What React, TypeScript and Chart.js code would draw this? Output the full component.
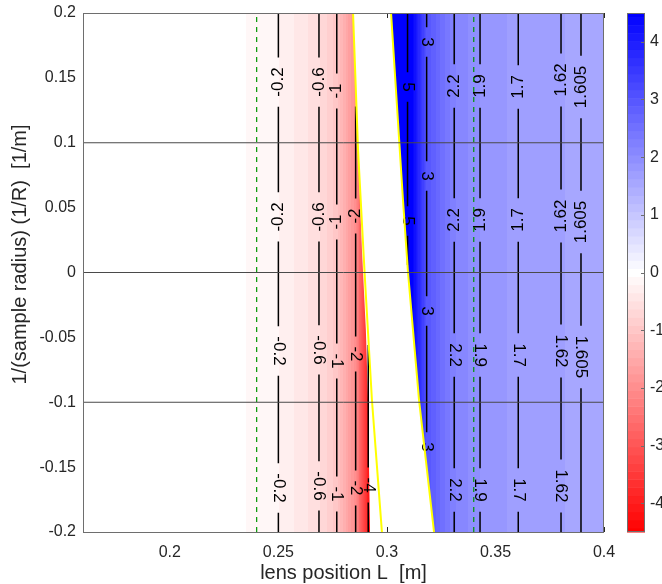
import React, { useEffect, useRef } from 'react';
import { Chart, registerables } from 'chart.js';

Chart.register(...registerables);

// ---- axes ----
const xRange = [0.16, 0.4];
const yRange = [-0.2, 0.2];
const xTicks = [0.2, 0.25, 0.3, 0.35, 0.4];
const xTickLabels = ['0.2', '0.25', '0.3', '0.35', '0.4'];
const yTicks = [-0.2, -0.15, -0.1, -0.05, 0, 0.05, 0.1, 0.15, 0.2];
const yTickLabels = ['-0.2', '-0.15', '-0.1', '-0.05', '0', '0.05', '0.1', '0.15', '0.2'];
const cbRange = [-4.5, 4.5];
const cbTicks = [-4, -3, -2, -1, 0, 1, 2, 3, 4];
const cbTickLabels = ['-4', '-3', '-2', '-1', '0', '1', '2', '3', '4'];
const colorSteps = 32;
const xTitle = 'lens position L  [m]';
const yTitle = '1/(sample radius) (1/R)  [1/m]';

// ---- shaded field (value vs lens position) ----
const leftShadeL = [0.16, 0.2352, 0.25, 0.2687, 0.2769, 0.2856, 0.2914, 0.2922];
const leftShadeV = [0, -0.07, -0.2, -0.6, -1, -2, -4, -4.5];
const rightShadeL = [0.3019, 0.3095, 0.3183, 0.331, 0.3429, 0.3605, 0.3802, 0.3894, 0.4];
const rightShadeV = [5.5, 5, 3, 2.2, 1.9, 1.7, 1.62, 1.605, 1.595];

// edge of the red field (undefined region to its right)
const redEdgeY = [0.2, 0.0944, 0.0173, -0.0443, -0.0983, -0.2];
const redEdgeL = [0.2844, 0.2867, 0.2885, 0.2903, 0.2913, 0.2922];

// yellow boundary lines
const leftYellowY = [0.2, 0.0944, -0.0058, -0.0983, -0.2];
const leftYellowL = [0.2844, 0.2867, 0.2899, 0.2931, 0.2977];
const rightYellowY = [0.2, 0.0559, 0.0004, -0.0983, -0.2];
const rightYellowL = [0.3019, 0.3074, 0.3097, 0.3148, 0.3217];

// dashed green markers & horizontal reference lines
const greenDashL = [0.24, 0.34];
const hLineY = [0.1, 0, -0.1];

// ---- contours ----
const contourText = ['-0.2', '-0.6', '-1', '-2', '-4', '5', '3', '2.2', '1.9', '1.7', '1.62', '1.605'];
const contourL = [0.25, 0.2687, 0.2769, 0.2856, 0.2914, 0.3095, 0.3183, 0.331, 0.3429, 0.3605, 0.3802, 0.3894];
const contourTop = [0.2, 0.2, 0.2, 0.128, -0.0559, 0.2, 0.2, 0.2, 0.2, 0.2, 0.2, 0.2];
const contourBottom = [-0.2, -0.2, -0.2, -0.2, -0.2, 0.0058, -0.143, -0.2, -0.2, -0.2, -0.2, -0.2];
const contourLabelY = [
  [0.1468, 0.0428, -0.0605, -0.1661],
  [0.1468, 0.0428, -0.0597, -0.1645],
  [0.1399, 0.0389, -0.0682, -0.1707],
  [0.0435, -0.0628, -0.1661],
  [-0.1638],
  [0.143, 0.0397],
  [0.1776, 0.0744, -0.0297, -0.1345],
  [0.1437, 0.0405, -0.0636, -0.1676],
  [0.1437, 0.0405, -0.0636, -0.1676],
  [0.143, 0.0405, -0.0636, -0.1676],
  [0.1484, 0.0435, -0.0605, -0.1645],
  [0.143, 0.0389, -0.0651],
];
// 1 = text reads upward, -1 = text reads downward
const contourLabelDir = [
  [1, 1, -1, -1],
  [1, 1, -1, -1],
  [1, 1, -1, -1],
  [1, -1, -1],
  [-1],
  [-1, -1],
  [-1, -1, -1, -1],
  [1, 1, -1, -1],
  [1, 1, -1, -1],
  [1, 1, -1, -1],
  [1, 1, -1, -1],
  [1, 1, -1],
];

const FONT = "'Liberation Sans', Arial, Helvetica, sans-serif";
const TEXT = '#262626';

function bandIndex(v: number) {
  const k = Math.round(v / (cbRange[1] / colorSteps));
  return Math.max(-colorSteps, Math.min(colorSteps, k)) || 0;
}
function bandColor(k: number) {
  const t = Math.abs(k) / colorSteps;
  const c = Math.round(255 * (1 - t));
  return k < 0 ? `rgb(255,${c},${c})` : `rgb(${c},${c},255)`;
}

function shadeGradient(ctx: CanvasRenderingContext2D, xs: any, Ls: number[], Vs: number[]) {
  const p0 = xs.getPixelForValue(Ls[0]);
  const p1 = xs.getPixelForValue(Ls[Ls.length - 1]);
  const g = ctx.createLinearGradient(p0, 0, p1, 0);
  const step = cbRange[1] / colorSteps;
  const off = (L: number) => Math.min(1, Math.max(0, (xs.getPixelForValue(L) - p0) / (p1 - p0)));
  for (let i = 0; i < Ls.length - 1; i++) {
    const v0 = Vs[i], v1 = Vs[i + 1];
    const k0 = bandIndex(v0), k1 = bandIndex(v1);
    g.addColorStop(off(Ls[i]), bandColor(k0));
    if (k0 !== k1) {
      const dir = k1 > k0 ? 1 : -1;
      for (let k = k0; k !== k1; k += dir) {
        const b = (k + dir * 0.5) * step;
        const L = Ls[i] + ((b - v0) / (v1 - v0)) * (Ls[i + 1] - Ls[i]);
        g.addColorStop(off(L), bandColor(k));
        g.addColorStop(off(L), bandColor(k + dir));
      }
    }
  }
  g.addColorStop(1, bandColor(bandIndex(Vs[Vs.length - 1])));
  return g;
}

const fieldPlugin = {
  id: 'field',
  beforeDatasetsDraw(chart: any) {
    const { ctx, chartArea: a, scales } = chart;
    const xs = scales.x, ys = scales.y;
    ctx.save();
    // inward ticks (lie under the field like MATLAB's bottom layer)
    ctx.strokeStyle = TEXT;
    ctx.lineWidth = 1;
    ctx.beginPath();
    xTicks.forEach((v) => {
      const px = Math.round(xs.getPixelForValue(v)) + 0.5;
      ctx.moveTo(px, a.bottom); ctx.lineTo(px, a.bottom - 5);
      ctx.moveTo(px, a.top); ctx.lineTo(px, a.top + 5);
    });
    yTicks.forEach((v) => {
      const py = Math.round(ys.getPixelForValue(v)) + 0.5;
      ctx.moveTo(a.left, py); ctx.lineTo(a.left + 5, py);
      ctx.moveTo(a.right, py); ctx.lineTo(a.right - 5, py);
    });
    ctx.stroke();

    ctx.beginPath();
    ctx.rect(a.left, a.top, a.right - a.left, a.bottom - a.top);
    ctx.clip();

    // red (left) field
    ctx.beginPath();
    ctx.moveTo(xs.getPixelForValue(xRange[0]), ys.getPixelForValue(redEdgeY[0]));
    redEdgeL.forEach((L, i) => ctx.lineTo(xs.getPixelForValue(L), ys.getPixelForValue(redEdgeY[i])));
    ctx.lineTo(xs.getPixelForValue(xRange[0]), ys.getPixelForValue(redEdgeY[redEdgeY.length - 1]));
    ctx.closePath();
    ctx.fillStyle = shadeGradient(ctx, xs, leftShadeL, leftShadeV);
    ctx.fill();

    // blue (right) field
    ctx.beginPath();
    rightYellowL.forEach((L, i) => {
      const px = xs.getPixelForValue(L), py = ys.getPixelForValue(rightYellowY[i]);
      if (i === 0) ctx.moveTo(px, py); else ctx.lineTo(px, py);
    });
    ctx.lineTo(xs.getPixelForValue(xRange[1]), ys.getPixelForValue(yRange[0]));
    ctx.lineTo(xs.getPixelForValue(xRange[1]), ys.getPixelForValue(yRange[1]));
    ctx.closePath();
    ctx.fillStyle = shadeGradient(ctx, xs, rightShadeL, rightShadeV);
    ctx.fill();

    // contour lines with labels
    ctx.font = `17px ${FONT}`;
    ctx.strokeStyle = '#000';
    ctx.fillStyle = '#000';
    ctx.lineWidth = 1.5;
    contourL.forEach((L, i) => {
      const px = xs.getPixelForValue(L);
      const top = ys.getPixelForValue(contourTop[i]);
      const bot = ys.getPixelForValue(contourBottom[i]);
      const w = ctx.measureText(contourText[i]).width;
      const gaps = contourLabelY[i].map((v) => ys.getPixelForValue(v)).sort((p, q) => p - q);
      let cur = top;
      ctx.beginPath();
      gaps.forEach((g) => {
        const g0 = g - w / 2 - 10, g1 = g + w / 2 + 10;
        if (g0 > cur) { ctx.moveTo(px, cur); ctx.lineTo(px, g0); }
        cur = Math.max(cur, g1);
      });
      if (bot > cur) { ctx.moveTo(px, cur); ctx.lineTo(px, bot); }
      ctx.stroke();
      contourLabelY[i].forEach((v, j) => {
        ctx.save();
        ctx.translate(px, ys.getPixelForValue(v));
        ctx.rotate(contourLabelDir[i][j] > 0 ? -Math.PI / 2 : Math.PI / 2);
        ctx.textAlign = 'center';
        ctx.textBaseline = 'middle';
        ctx.fillText(contourText[i], 0, 0);
        ctx.restore();
      });
    });
    ctx.restore();
  },
  afterDraw(chart: any) {
    const { ctx, chartArea: a, scales } = chart;
    ctx.save();
    // axes box
    ctx.strokeStyle = '#6e6e6e';
    ctx.lineWidth = 1;
    ctx.strokeRect(a.left + 0.5, a.top + 0.5, a.right - a.left - 1, a.bottom - a.top);
    // y-axis title
    ctx.save();
    ctx.translate(20, (a.top + a.bottom) / 2 - 18);
    ctx.rotate(-Math.PI / 2);
    ctx.font = `20px ${FONT}`;
    ctx.fillStyle = TEXT;
    ctx.textAlign = 'center';
    ctx.textBaseline = 'middle';
    ctx.fillText(yTitle, 0, 0);
    ctx.restore();
    // colorbar
    const cb = scales.cb;
    const x0 = cb.left + 23, w = 18;
    const step = cbRange[1] / colorSteps;
    for (let k = -colorSteps; k <= colorSteps; k++) {
      const lo = Math.max(cbRange[0], (k - 0.5) * step);
      const hi = Math.min(cbRange[1], (k + 0.5) * step);
      const pTop = cb.getPixelForValue(hi), pBot = cb.getPixelForValue(lo);
      ctx.fillStyle = bandColor(k);
      ctx.fillRect(x0, pTop, w, pBot - pTop + 0.5);
    }
    const t = cb.getPixelForValue(cbRange[1]), b = cb.getPixelForValue(cbRange[0]);
    ctx.strokeStyle = '#6e6e6e';
    ctx.strokeRect(x0 + 0.5, t + 0.5, w - 1, b - t - 1);
    ctx.beginPath();
    cbTicks.forEach((v) => {
      const py = Math.round(cb.getPixelForValue(v)) + 0.5;
      ctx.moveTo(x0 + w - 4, py); ctx.lineTo(x0 + w, py);
    });
    ctx.stroke();
    ctx.restore();
  },
};

const lineDs = (pts: { x: number; y: number }[], color: string, width: number, dash: number[] = []) => ({
  data: pts,
  borderColor: color,
  borderWidth: width,
  borderDash: dash,
  pointRadius: 0,
  fill: false,
  tension: 0,
});

const fitTo = (dim: 'width' | 'height', size: number) => (s: any) => {
  s[dim] = size;
  s.paddingTop = 0;
  s.paddingBottom = 0;
  s.paddingLeft = 0;
  s.paddingRight = 0;
};

const tickFont = { size: 16, family: FONT };

export default function App() {
  const ref = useRef<HTMLCanvasElement>(null);
  useEffect(() => {
    Chart.defaults.font.family = FONT;
    Chart.defaults.font.size = 16;
    const datasets: any[] = [
      ...hLineY.map((v) => lineDs([{ x: xRange[0], y: v }, { x: xRange[1], y: v }], '#4a4a4a', 1)),
      ...greenDashL.map((L) => lineDs([{ x: L, y: yRange[0] }, { x: L, y: yRange[1] }], 'rgb(0,150,0)', 1.2, [5, 5])),
      lineDs(leftYellowL.map((L, i) => ({ x: L, y: leftYellowY[i] })), '#ffff00', 2),
      lineDs(rightYellowL.map((L, i) => ({ x: L, y: rightYellowY[i] })), '#ffff00', 2),
    ];
    const chart = new Chart(ref.current as HTMLCanvasElement, {
      type: 'line',
      data: { datasets },
      plugins: [fieldPlugin],
      options: {
        animation: false,
        responsive: false,
        devicePixelRatio: 1,
        layout: { padding: { top: 13, left: 0, right: 0, bottom: 0 } },
        plugins: { legend: { display: false }, tooltip: { enabled: false } },
        scales: {
          x: {
            type: 'linear',
            position: 'bottom',
            min: xRange[0],
            max: xRange[1],
            grid: { display: false, drawTicks: false },
            border: { display: false },
            afterBuildTicks: (s: any) => { s.ticks = xTicks.map((value) => ({ value })); },
            afterFit: fitTo('height', 52),
            ticks: {
              autoSkip: false,
              maxRotation: 0,
              padding: 11,
              color: TEXT,
              font: tickFont,
              callback: (_v: any, i: number) => xTickLabels[i],
            },
            title: {
              display: true,
              text: xTitle,
              color: TEXT,
              font: { size: 20, lineHeight: 1, family: FONT },
              padding: { top: 0, bottom: 1 },
            },
          },
          y: {
            type: 'linear',
            position: 'left',
            min: yRange[0],
            max: yRange[1],
            grid: { display: false, drawTicks: false },
            border: { display: false },
            afterBuildTicks: (s: any) => { s.ticks = yTicks.map((value) => ({ value })); },
            afterFit: fitTo('width', 83),
            ticks: {
              autoSkip: false,
              padding: 7,
              color: TEXT,
              font: tickFont,
              callback: (_v: any, i: number) => yTickLabels[i],
            },
            title: { display: false },
          },
          cb: {
            type: 'linear',
            axis: 'y',
            position: 'right',
            min: cbRange[0],
            max: cbRange[1],
            grid: { display: false, drawTicks: false },
            border: { display: false },
            afterBuildTicks: (s: any) => { s.ticks = cbTicks.map((value) => ({ value })); },
            afterFit: fitTo('width', 58),
            ticks: {
              autoSkip: false,
              padding: 46,
              color: TEXT,
              font: tickFont,
              callback: (_v: any, i: number) => cbTickLabels[i],
            },
          },
        },
      } as any,
    });
    return () => chart.destroy();
  }, []);
  return (
    <div style={{ position: 'absolute', left: 0, top: 0, width: 662, height: 584, background: '#fff' }}>
      <canvas ref={ref} width={662} height={584} style={{ display: 'block', width: 662, height: 584 }} />
    </div>
  );
}
